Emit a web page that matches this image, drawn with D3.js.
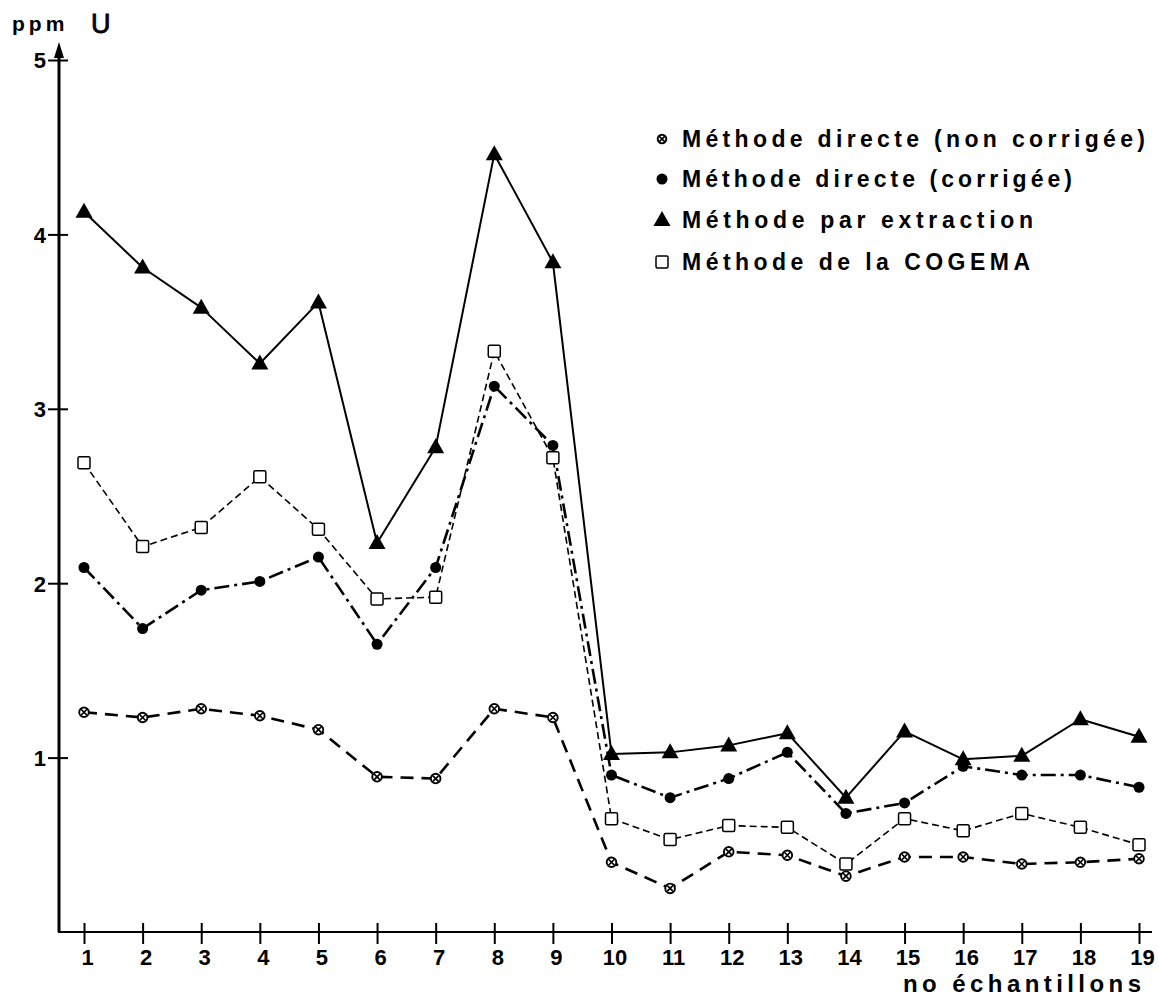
<!DOCTYPE html>
<html lang="fr">
  <head>
    <meta charset="UTF-8" />
    <title>Teneur en uranium par échantillon</title>
    <script src="https://d3js.org/d3.v7.min.js"></script>
    <style>
      body { margin: 0; background: #fff; }
      svg { display: block; font-family: "Liberation Sans", Arial, Helvetica, sans-serif; }
    </style>
  </head>
  <body>
    <svg width="1159" height="998"></svg>
    <script>
      // Sample numbers (x) and U contents in ppm for each method
      const samples = [1, 2, 3, 4, 5, 6, 7, 8, 9, 10, 11, 12, 13, 14, 15, 16, 17, 18, 19];
      const nonCorrigee = [1.26, 1.23, 1.28, 1.24, 1.16, 0.89, 0.88, 1.28, 1.23, 0.40, 0.25, 0.46, 0.44, 0.32, 0.43, 0.43, 0.39, 0.40, 0.42];
      const corrigee = [2.09, 1.74, 1.96, 2.01, 2.15, 1.65, 2.09, 3.13, 2.79, 0.90, 0.77, 0.88, 1.03, 0.68, 0.74, 0.95, 0.90, 0.90, 0.83];
      const extraction = [4.13, 3.81, 3.58, 3.26, 3.61, 2.23, 2.78, 4.46, 3.84, 1.02, 1.03, 1.07, 1.14, 0.77, 1.15, 0.99, 1.01, 1.22, 1.12];
      const cogema = [2.69, 2.21, 2.32, 2.61, 2.31, 1.91, 1.92, 3.33, 2.72, 0.65, 0.53, 0.61, 0.60, 0.39, 0.65, 0.58, 0.68, 0.60, 0.50];
      const yTicks = [1, 2, 3, 4, 5];
      const legendLabels = [
        "Méthode directe (non corrigée)",
        "Méthode directe (corrigée)",
        "Méthode par extraction",
        "Méthode de la COGEMA",
      ];

      const svg = d3.select("svg");
      const x = d3.scaleLinear().domain([1, 19]).range([84, 1139]);
      const y = d3.scaleLinear().domain([0, 5]).range([932, 60]);
      const axisX = 59;

      // y axis with arrow
      svg.append("line")
        .attr("x1", axisX).attr("x2", axisX)
        .attr("y1", y(0)).attr("y2", 50)
        .attr("stroke", "#000").attr("stroke-width", 3);
      svg.append("path")
        .attr("d", `M${axisX},42 L${axisX - 5},58 L${axisX + 5},58 Z`)
        .attr("fill", "#000");
      const yAxis = d3.axisLeft(y).tickValues(yTicks).tickSize(0).tickPadding(0).tickFormat(d3.format("d"));
      const gy = svg.append("g").attr("transform", `translate(${axisX},0)`).call(yAxis);
      gy.select(".domain").remove();
      gy.selectAll(".tick line").remove();
      gy.selectAll(".tick").append("line")
        .attr("x1", -11).attr("x2", 9)
        .attr("stroke", "#000").attr("stroke-width", 2);
      gy.selectAll(".tick text")
        .attr("x", -13).attr("dy", "0.36em")
        .style("font-size", "22px").style("font-weight", "bold")
        .attr("fill", "#000");

      // x axis with crosses
      svg.append("line")
        .attr("x1", axisX - 1).attr("x2", 1152)
        .attr("y1", y(0)).attr("y2", y(0))
        .attr("stroke", "#000").attr("stroke-width", 1.8);
      const xAxis = d3.axisBottom(x).tickValues(samples).tickSize(0).tickPadding(0).tickFormat(d3.format("d"));
      const gx = svg.append("g").attr("transform", `translate(0,${y(0)})`).call(xAxis);
      gx.select(".domain").remove();
      gx.selectAll(".tick line").remove();
      gx.selectAll(".tick").append("line")
        .attr("y1", -9).attr("y2", 12)
        .attr("stroke", "#000").attr("stroke-width", 2);
      gx.selectAll(".tick text")
        .attr("y", 33).attr("dy", 0).attr("dx", 3)
        .style("font-size", "22px").style("font-weight", "bold")
        .attr("fill", "#000");

      // axis titles
      svg.append("text").attr("x", 12).attr("y", 31)
        .style("font-size", "21px").style("font-weight", "bold")
        .style("letter-spacing", "4px")
        .text("ppm");
      svg.append("text").attr("x", 91).attr("y", 33)
        .style("font-size", "27px")
        .style("stroke", "#000").style("stroke-width", 0.8)
        .text("U");
      svg.append("text").attr("x", 903).attr("y", 992)
        .style("font-size", "24px").style("font-weight", "bold")
        .attr("textLength", 238).attr("lengthAdjust", "spacing")
        .text("no échantillons");

      // series definitions
      const series = [
        { values: nonCorrigee, dash: "13,8", width: 2.6, marker: "cross" },
        { values: corrigee, dash: "15,5,3,5", width: 2.6, marker: "dot" },
        { values: extraction, dash: null, width: 2, marker: "tri" },
        { values: cogema, dash: "7,4", width: 1.6, marker: "square" },
      ];

      const line = d3.line().x((d) => x(d[0])).y((d) => y(d[1]));

      function drawMarker(g, type, k) {
        if (type === "cross") {
          g.append("circle").attr("r", 4.8 * k).attr("fill", "#fff").attr("stroke", "#000").attr("stroke-width", 1.9);
          const c = 3 * k;
          g.append("path").attr("d", `M${-c},${-c}L${c},${c}M${c},${-c}L${-c},${c}`).attr("stroke", "#000").attr("stroke-width", 1.7);
        } else if (type === "dot") {
          g.append("circle").attr("r", 5.5).attr("fill", "#000");
        } else if (type === "tri") {
          g.append("path").attr("d", "M0,-9L8.5,6L-8.5,6Z").attr("fill", "#000");
        } else {
          g.append("rect").attr("x", -6).attr("y", -6).attr("width", 12).attr("height", 12)
            .attr("rx", 1.5).attr("fill", "#fff").attr("stroke", "#000").attr("stroke-width", 1.5);
        }
      }

      series.forEach((s) => {
        const pts = samples.map((d, i) => [d, s.values[i]]);
        svg.append("path")
          .datum(pts)
          .attr("d", line)
          .attr("fill", "none")
          .attr("stroke", "#000")
          .attr("stroke-width", s.width)
          .attr("stroke-dasharray", s.dash)
          .attr("stroke-linejoin", "round");
      });
      series.forEach((s) => {
        svg.append("g").selectAll("g")
          .data(samples.map((d, i) => [d, s.values[i]]))
          .enter().append("g")
          .attr("transform", (d) => `translate(${x(d[0])},${y(d[1])})`)
          .each(function () { drawMarker(d3.select(this), s.marker, 1); });
      });

      // legend
      const legendRows = [139, 179, 220, 262];
      const legendWidths = [463, 390, 351, 348];
      const legend = svg.append("g");
      legendLabels.forEach((label, i) => {
        const m = legend.append("g").attr("transform", `translate(662,${legendRows[i]})`);
        drawMarker(m, series[i].marker, 0.9);
        legend.append("text")
          .attr("x", 682).attr("y", legendRows[i]).attr("dy", "0.36em")
          .style("font-size", "23px").style("font-weight", "bold")
          .attr("textLength", legendWidths[i]).attr("lengthAdjust", "spacing")
          .text(label);
      });
    </script>
  </body>
</html>
